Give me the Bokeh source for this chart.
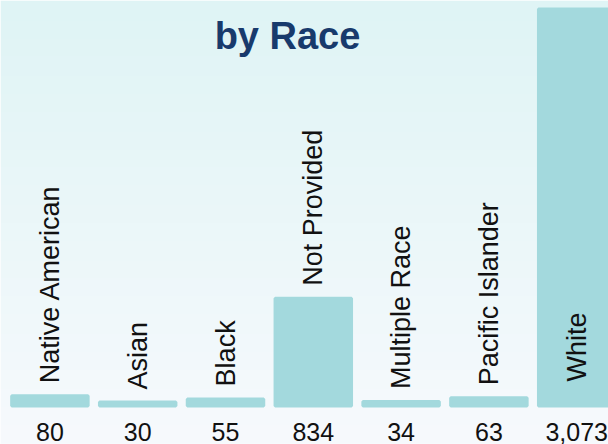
import numpy as np
from bokeh.plotting import figure
from bokeh.models import Range1d, ColumnDataSource
from bokeh.core.properties import value
from bokeh.embed import file_html
from bokeh.resources import INLINE

# ---- data ----
categories = ["Native American", "Asian", "Black", "Not Provided",
              "Multiple Race", "Pacific Islander", "White"]
counts = [80, 30, 55, 834, 34, 63, 3073]
value_labels = [f"{c:,}" for c in counts]
title_text = "by Race"

# ---- layout (pixels) ----
W, H = 608, 444
PITCH = 87.8          # px between bar centres
X0 = 49.4             # px of first bar centre
ZERO_PX = 405.5       # px (from top) of value 0
SCALE = 0.1292        # px per count unit

BAR = "#a3d9dd"
TXT = "#111111"
TITLE_C = "#183a6c"
FONT = "Liberation Sans"


def fx_to_x(fx):
    return (fx - X0) / PITCH


def fy_to_y(fy):
    return (ZERO_PX - fy) / SCALE


x_start, x_end = fx_to_x(0), fx_to_x(W)
y_start, y_end = fy_to_y(H), fy_to_y(0)

p = figure(width=W, height=H, x_range=Range1d(x_start, x_end),
           y_range=Range1d(y_start, y_end), output_backend="svg",
           toolbar_location=None, min_border=0,
           x_axis_type=None, y_axis_type=None)
p.grid.visible = False
p.outline_line_color = None
p.background_fill_color = "#ffffff"
p.border_fill_color = "#ffffff"

# background gradient
N = 200
top = np.array([223, 244, 245], dtype=float)
bot = np.array([247, 250, 253], dtype=float)
img = np.empty((N, 1), dtype=np.uint32)
view = img.view(dtype=np.uint8).reshape((N, 1, 4))
for r in range(N):
    t = r / (N - 1)  # 0 bottom -> 1 top
    c = bot + (top - bot) * t
    view[r, 0, 0] = int(c[0])
    view[r, 0, 1] = int(c[1])
    view[r, 0, 2] = int(c[2])
    view[r, 0, 3] = 255
p.image_rgba(image=[img], x=x_start, y=y_start, dw=x_end - x_start,
             dh=y_end - y_start)

xs = list(range(len(categories)))
vmax = max(counts)
label_y = [c + 12.5 / SCALE if c < 0.5 * vmax else 24.5 / SCALE for c in counts]

src = ColumnDataSource(dict(x=xs, count=counts, cat=categories,
                            val=value_labels, ly=label_y,
                            vy=[fy_to_y(431)] * len(xs)))

p.vbar(x="x", top="count", bottom=0, width=0.871, source=src,
       fill_color=BAR, line_color=BAR, line_width=3)

p.text(x="x", y="ly", text="cat", source=src, angle=np.pi / 2,
       text_align="left", text_baseline="middle",
       text_font=value(FONT), text_font_size="27px", text_color=TXT)

p.text(x="x", y="vy", text="val", source=src,
       text_align="center", text_baseline="middle",
       text_font=value(FONT), text_font_size="25px", text_color=TXT)

p.text(x=[fx_to_x(287)], y=[fy_to_y(35)], text=[title_text],
       text_align="center", text_baseline="alphabetic",
       text_font=value(FONT), text_font_size="38px",
       text_font_style="bold", text_color=TITLE_C)

open("out.html", "w").write(file_html(p, INLINE))
